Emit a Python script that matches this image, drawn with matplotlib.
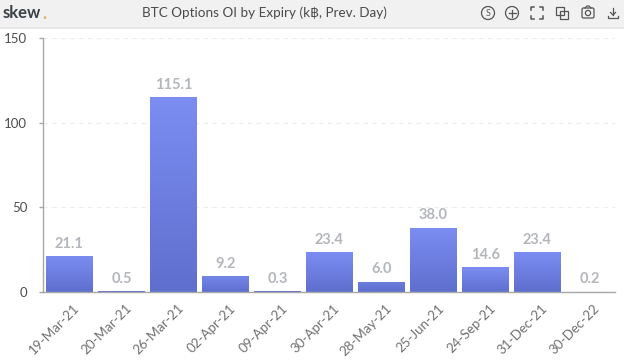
#!/usr/bin/env python3
"""BTC options open interest by expiry, skew. style panel."""
import numpy as np
import matplotlib
matplotlib.use("Agg")
import matplotlib.pyplot as plt
from matplotlib.patches import Circle, Rectangle, FancyBboxPatch
from matplotlib.transforms import ScaledTranslation

expiries = ["19-Mar-21", "20-Mar-21", "26-Mar-21", "02-Apr-21", "09-Apr-21", "30-Apr-21",
            "28-May-21", "25-Jun-21", "24-Sep-21", "31-Dec-21", "30-Dec-22"]
oi = [21.1, 0.5, 115.1, 9.2, 0.3, 23.4, 6.0, 38.0, 14.6, 23.4, 0.2]
yticks = [0, 50, 100, 150]
title = "BTC Options OI by Expiry (k\u0e3f, Prev. Day)"

W, H = 624, 362
plt.rcParams["font.family"] = ["Lato", "DejaVu Sans"]
fig = plt.figure(figsize=(W / 100, H / 100), dpi=100, facecolor="white")

# header and icons are drawn in pixel coordinates
bg = fig.add_axes([0, 0, 1, 1])
bg.set_xlim(0, W); bg.set_ylim(H, 0); bg.axis("off")
bg.add_patch(Rectangle((0, 0), W, 27, fc="#f1f1f1", ec="none"))
bg.add_patch(Rectangle((0, 27), W, 2, fc="#e8e8e8", ec="none"))
bg.text(3, 13, "skew", fontsize=12, fontweight="bold", color="#3b4148", va="center")
bg.text(42, 14, ".", fontsize=12, fontweight="bold", color="#e0b060", va="center")
bg.text(264, 13, title, fontsize=9.7, color="#4a4a4a", va="center", ha="center")

ic = "#555555"
bg.add_patch(Circle((488, 13), 6.5, fc="none", ec=ic, lw=0.9))
bg.text(488, 13, "S", fontsize=6.5, color=ic, ha="center", va="center")
bg.add_patch(Circle((512, 13), 6.5, fc="none", ec=ic, lw=0.9))
bg.plot([508.5, 515.5], [13, 13], color=ic, lw=0.9)
bg.plot([512, 512], [9.5, 16.5], color=ic, lw=0.9)
for cx, dx in [(531, 1), (543, -1)]:
    for cy, dy in [(7, 1), (19, -1)]:
        bg.plot([cx + 3 * dx, cx, cx], [cy, cy, cy + 3 * dy], color=ic, lw=1.1)
bg.add_patch(Rectangle((556, 7), 8, 8, fc="none", ec=ic, lw=0.9))
bg.add_patch(Rectangle((560, 11), 8, 8, fc="none", ec=ic, lw=0.9))
bg.add_patch(FancyBboxPatch((582, 8), 12, 10, boxstyle="round,pad=0,rounding_size=1.5",
                            fc="none", ec=ic, lw=0.9))
bg.add_patch(Circle((588, 13), 2.6, fc="none", ec=ic, lw=0.9))
bg.plot([585, 587, 589, 591], [8, 6, 6, 8], color=ic, lw=0.9)
bg.plot([613, 613], [8, 15], color=ic, lw=0.9)
bg.plot([610.5, 613, 615.5], [12.5, 15, 12.5], color=ic, lw=0.9)
bg.plot([608, 608, 618, 618], [16, 18, 18, 16], color=ic, lw=0.9)

ax = fig.add_axes([43.4 / W, 1 - 292 / H, 572 / W, 254 / H])
ax.patch.set_alpha(0)

x = np.arange(len(oi))
bars = ax.bar(x, oi, width=0.885, color="#6f80e4", zorder=2)

# vertical gradient on each bar, clipped to the bar itself
grad = np.linspace(0, 1, 64).reshape(-1, 1)
cmap = matplotlib.colors.LinearSegmentedColormap.from_list("bar", ["#5f6fce", "#7b8df2"])
for b in bars:
    bx, bw, bh = b.get_x(), b.get_width(), b.get_height()
    im = ax.imshow(grad, origin="lower", aspect="auto", cmap=cmap, zorder=3,
                   extent=[bx, bx + bw, 0, max(bh, 12)])
    im.set_clip_path(b)
ax.set_xlim(-0.5, len(oi) - 0.5)
ax.set_ylim(0, 150)

for xi, v in zip(x, oi):
    ax.text(xi, v + 3.2, f"{v:.1f}", ha="center", va="bottom", fontsize=10.5,
            fontweight="bold", color="#b3b6bb", zorder=4)

ax.set_yticks(yticks)
ax.set_xticks(x)
ax.set_xticklabels(expiries, rotation=45, ha="right", rotation_mode="anchor")
ax.tick_params(axis="y", length=3, width=1, color="#a8a8a8", labelcolor="#4d4d4d",
               labelsize=9.5, pad=8.6)
ax.tick_params(axis="x", length=0, labelcolor="#707070", labelsize=9.6, pad=8)
# has to come after tick_params, a pad change resets the label transforms
shift = ScaledTranslation(4 / 100, 1 / 100, fig.dpi_scale_trans)
for lab in ax.get_xticklabels():
    lab.set_transform(lab.get_transform() + shift)
ax.yaxis.grid(True, color="#ececec", lw=0.8, ls=(0, (4, 4)), zorder=0)
ax.set_axisbelow(True)
for s in ["top", "right"]:
    ax.spines[s].set_visible(False)
for s in ["left", "bottom"]:
    ax.spines[s].set_color("#a8a8a8")
    ax.spines[s].set_linewidth(1)
    ax.spines[s].set_zorder(5)

fig.savefig("out.png", dpi=100)
